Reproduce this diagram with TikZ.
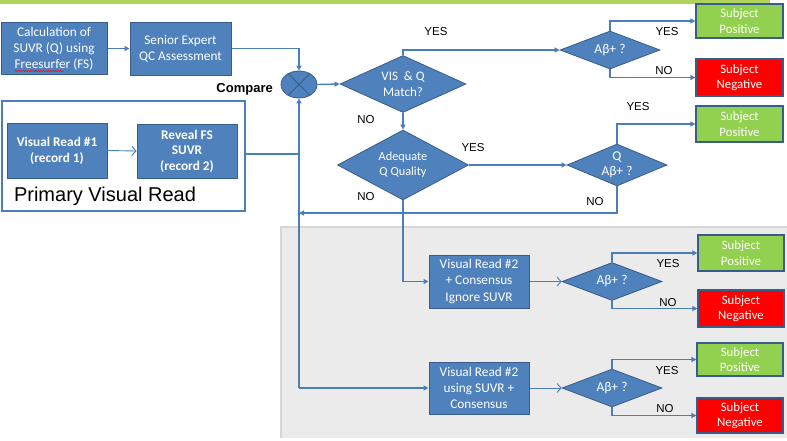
\documentclass[tikz,border=0pt]{standalone}
\usepackage{fontspec}
\setmainfont{Carlito}
\newfontfamily\arialf{Liberation Sans}
\usetikzlibrary{shapes.geometric,arrows.meta,decorations.pathmorphing}
\definecolor{boxblue}{HTML}{4F81BD}
\definecolor{boxedge}{HTML}{385D8A}
\definecolor{linec}{HTML}{4A7EBB}
\definecolor{okgreen}{HTML}{92D050}
\definecolor{badred}{HTML}{FF0000}
\definecolor{topgreen}{HTML}{B0D35E}
\definecolor{graybg}{HTML}{EBEBEB}
\definecolor{grayedge}{HTML}{D6D6D6}
\tikzset{
  blk/.style={rectangle, fill=boxblue, draw=boxedge, line width=1pt, text=white, align=center, inner sep=0pt, font=\fontsize{13.3}{16.2}\selectfont},
  res/.style={rectangle, draw=boxedge, line width=1.2pt, text=white, align=center, inner sep=0pt, minimum width=87pt, font=\fontsize{12.8}{15.5}\selectfont},
  dia/.style={diamond, fill=boxblue, draw=boxedge, line width=0.8pt, inner sep=0pt},
  dtext/.style={text=white, align=center, font=\fontsize{13}{15.5}\selectfont, inner sep=0pt},
  lbl/.style={font=\arialf\fontsize{11.5}{13}\selectfont, inner sep=0pt},
  conn/.style={draw=linec, line width=1.4pt},
  arr/.style={conn, -{Triangle[length=5pt,width=5pt]}},
  barb/.style={draw=linec, line width=0.9pt, -{Straight Barb[length=4pt,width=9pt]}}
}
\begin{document}
\begin{tikzpicture}[x=1pt,y=-1pt]
\useasboundingbox (0,0) rectangle (787,440);
% top green rule
\fill[topgreen] (0,0) rectangle (770,3.5);
% gray lower area
\fill[graybg] (281,227) rectangle (787,438);
\draw[grayedge, line width=1.2pt] (281,438) -- (281,227) -- (787,227);

% top row
\node[blk, minimum width=106pt, minimum height=52pt] (calc) at (54,48.5) {Calculation of\\SUVR (Q) using\\Freesurfer (FS)};
\draw[red, line width=0.5pt, decorate, decoration={snake, amplitude=0.6pt, segment length=2.5pt}] (15,71) -- (64,71);
\node[blk, minimum width=101pt, minimum height=53pt] (senior) at (180.5,48.5) {Senior Expert\\QC Assessment};
\draw[arr] (calc.east) -- (senior.west);

% compare
\node[ellipse, fill=boxblue, draw=boxedge, line width=0.8pt, minimum width=36pt, minimum height=27pt, inner sep=0pt] (cmp) at (299,84.5) {};
\draw[boxedge, line width=0.9pt] (cmp.45) -- (cmp.225) (cmp.135) -- (cmp.315);
\node[font=\arialf\bfseries\fontsize{13}{15}\selectfont, anchor=east, inner sep=0pt] (cmplbl) at (273,89) {Compare};
\draw[arr] (senior.east) -| (cmp.north);

% primary visual read
\node[rectangle, draw=linec, fill=white, line width=1.3pt, minimum width=243pt, minimum height=110pt, inner sep=0pt] (pvr) at (123.5,156) {};
\node[blk, minimum width=100pt, minimum height=55pt, font=\bfseries\fontsize{13.3}{16}\selectfont] (vr1) at (57,150.5) {Visual Read \#1\\(record 1)};
\node[blk, minimum width=100pt, minimum height=54pt, font=\bfseries\fontsize{13.3}{15.5}\selectfont] (reveal) at (187,151) {Reveal FS\\SUVR\\(record 2)};
\draw[barb] (vr1.east) -- (reveal.west);
\node[font=\arialf\fontsize{20}{22}\selectfont, inner sep=0pt] (pvrlbl) at (105,196) {Primary Visual Read};

% trunk
\coordinate (j1) at (299,154);
\coordinate (j3) at (299,213);
\coordinate (j2) at (299,388);
\draw[arr] (pvr.east |- j1) -- (j1) -- (cmp.south);
\draw[conn] (j1) -- (j2);

% VIS & Q match
\node[dia, minimum width=126pt, minimum height=57pt, label={[dtext]center:VIS\ \ \& Q\\Match?}] (vis) at (403,84) {};
\draw[arr] (cmp.east) -- (vis.west);

\node[dia, minimum width=100pt, minimum height=38pt, label={[dtext, font=\fontsize{13.5}{16}\selectfont]center:Aβ+ ?}] (ab1) at (610,50) {};
\draw[arr] (vis.north) |- (ab1.west);
\node[lbl] (y1) at (436,32) {YES};

\node[res, fill=okgreen, minimum height=34pt] (sp1) at (739.5,21) {Subject\\Positive};
\node[res, fill=badred, minimum height=37pt] (sn1) at (739.5,77.5) {Subject\\Negative};
\draw[arr] (ab1.north) |- (sp1.west);
\draw[arr] (ab1.south) |- (sn1.west);
\node[lbl] (y2) at (667,32) {YES};
\node[lbl] (n2) at (664,71) {NO};

% adequate quality
\node[dia, minimum width=131pt, minimum height=70pt, label={[dtext, font=\fontsize{12.3}{15}\selectfont]center:Adequate\\Q Quality}] (adq) at (403,165) {};
\draw[arr] (vis.south) -- (adq.north);
\node[lbl] (n1) at (366,120) {NO};

\node[dia, minimum width=100pt, minimum height=42pt, label={[dtext, font=\fontsize{13.5}{15.5}\selectfont]center:Q\\Aβ+ ?}] (qab) at (617,165) {};
\draw[arr] (adq.east) -- (qab.west);
\node[lbl] (y3) at (473,148) {YES};

\node[res, fill=okgreen, minimum height=36pt] (sp2) at (739.5,124) {Subject\\Positive};
\draw[arr] (qab.north) |- (sp2.west);
\node[lbl] (y4) at (638,107) {YES};
\draw[arr] (qab.south) |- (j3);
\node[lbl] (n4) at (595,202) {NO};
\node[lbl] (n3) at (366,197) {NO};

% lower: visual read 2 consensus
\node[blk, minimum width=100pt, minimum height=53pt] (vrc) at (479,281.5) {Visual Read \#2\\+ Consensus\\Ignore SUVR};
\draw[arr] (adq.south) |- (vrc.west);
\node[dia, minimum width=100pt, minimum height=38pt, label={[dtext, font=\fontsize{13.5}{16}\selectfont]center:Aβ+ ?}] (ab3) at (612,281.5) {};
\draw[barb] (vrc.east) -- (ab3.west);
\node[res, fill=okgreen, minimum height=36pt, minimum width=86pt] (sp3) at (741,253) {Subject\\Positive};
\node[res, fill=badred, minimum height=37pt, minimum width=86pt] (sn3) at (741,308.5) {Subject\\Negative};
\draw[arr] (ab3.north) |- (sp3.west);
\draw[arr] (ab3.south) |- (sn3.west);
\node[lbl] (y5) at (668,264) {YES};
\node[lbl] (n5) at (668,303) {NO};

% lower: visual read 2 using SUVR
\node[blk, minimum width=100pt, minimum height=52pt] (vrs) at (479,388) {Visual Read \#2\\using SUVR +\\Consensus};
\draw[arr] (j2) -- (vrs.west);
\node[dia, minimum width=100pt, minimum height=38pt, label={[dtext, font=\fontsize{13.5}{16}\selectfont]center:Aβ+ ?}] (ab4) at (612,388) {};
\draw[barb] (vrs.east) -- (ab4.west);
\node[res, fill=okgreen, minimum height=33pt, minimum width=86pt] (sp4) at (740,359.5) {Subject\\Positive};
\node[res, fill=badred, minimum height=35pt, minimum width=86pt] (sn4) at (740,415.5) {Subject\\Negative};
\draw[arr] (ab4.north) |- (sp4.west);
\draw[arr] (ab4.south) |- (sn4.west);
\node[lbl] (y6) at (667,371) {YES};
\node[lbl] (n6) at (665,409) {NO};
\end{tikzpicture}
\end{document}
